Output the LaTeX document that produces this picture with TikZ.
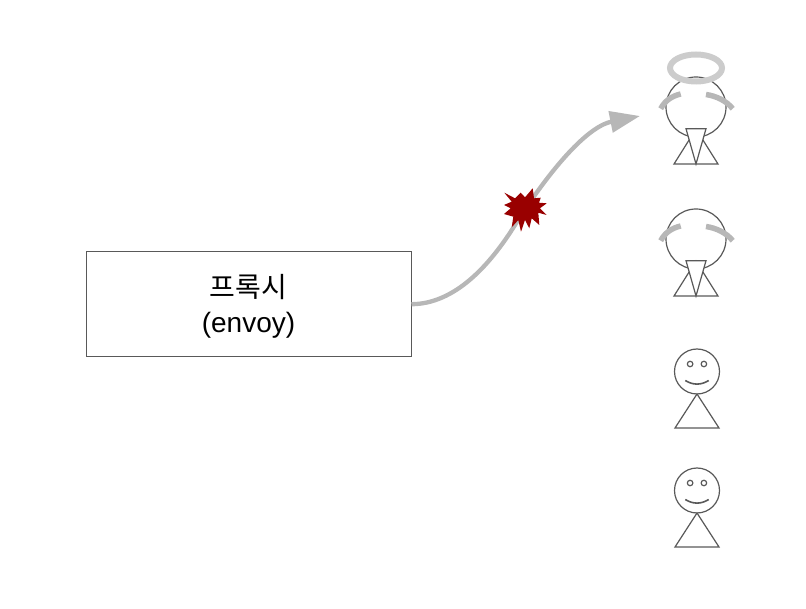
\documentclass[tikz,border=0pt]{standalone}
\usepackage{fontspec}
\setmainfont{Liberation Sans}
\newfontfamily\krfont{Noto Sans CJK KR}
\usetikzlibrary{positioning}
\usetikzlibrary{arrows.meta}
\usetikzlibrary{shapes.geometric}
\definecolor{linegray}{HTML}{595959}
\definecolor{wiregray}{HTML}{B7B7B7}
\definecolor{halogray}{HTML}{CCCCCC}
\definecolor{burstred}{HTML}{990000}
\tikzset{
  proxy box/.style = {draw=linegray,line width=1pt,minimum width=325pt,minimum height=105.5pt,inner sep=0pt},
  proxy text/.style = {inner sep=0pt,align=center,font=\fontsize{28}{35}\selectfont},
  head/.style = {circle,draw=linegray,line width=1.2pt,inner sep=0pt,minimum size=#1},
  eye/.style = {circle,draw=linegray,line width=1.2pt,inner sep=0pt,minimum size=5.5pt},
  limb/.style = {draw=linegray,line width=1.2pt},
  wing/.style = {draw=wiregray,line width=5.5pt},
  halo/.style = {draw=halogray,line width=6pt,ellipse,inner sep=0pt},
  wire/.style = {draw=wiregray,line width=4.3pt,-{Triangle[length=30pt,width=21pt]}},
  smiley/.pic = {
    \node[head=45pt] (face) at (0,0) {};
    \node[eye] (eyeL) at (-6.9,-7.5) {};
    \node[eye] (eyeR) at (6.9,-7.5) {};
    \coordinate (neck) at (0,22.5);
    \coordinate (feetL) at (-22,56.5);
    \coordinate (feetR) at (22,56.5);
    \draw[limb,line width=1.6pt] (-11.7,9) .. controls (-4,13.8) and (4,13.8) .. (11.7,9);
    \draw[limb] (neck) -- (feetL) -- (feetR) -- cycle;
  },
  angel/.pic = {
    \coordinate (apex) at (0,57);
    \coordinate (hipL) at (-22,57);
    \coordinate (hipR) at (22,57);
    \coordinate (top) at (0,22);
    \node[head=60pt] (face) at (0,0) {};
    \draw[limb] (top) -- (hipL) -- (hipR) -- cycle;
    \draw[limb,fill=white] (-10,21.7) -- (10,21.7) -- (apex) -- cycle;
    \draw[wing] (-15.3,-13) .. controls (-24,-11) and (-31,-6.5) .. (-35.3,1.7);
    \draw[wing] (10,-12.5) .. controls (20,-11) and (30,-6.5) .. (36.7,1.7);
  },
}

\begin{document}
\begin{tikzpicture}[x=1pt,y=-1pt]
  \useasboundingbox (0,0) rectangle (806,609);

  \node[proxy box] (proxy) at (248.5,304.2) {};
  \node[proxy text] (proxylabel) at (248.5,306) {{\krfont 프록시}\\(envoy)};
  \coordinate (target) at (640,116);
  \coordinate (hit) at (515,225);

  \draw[wire] (proxy.east) .. controls (455,304) and (490,265) .. (hit) .. controls (545,177) and (585,127) .. (target);

  % burst on the wire
  \fill[burstred] (504.3,192.7) -- (515,198.3) -- (520.7,192.7) -- (525,197.3) -- (532.7,188.3) -- (534,198.3)
    -- (540.7,197.7) -- (539,202.7) -- (546.7,203.3) -- (540,208.3) -- (546.7,215) -- (538.3,212.7)
    -- (539.3,225) -- (531.7,218.3) -- (529.3,228.3) -- (525,220) -- (521,231.7) -- (518.3,220)
    -- (511.7,227.3) -- (513.3,216.7) -- (504,214) -- (510.7,208.3) -- (504,205) -- (511.7,201.7) -- cycle;

  \pic (angelA) at (696,107) {angel};
  \node[halo,minimum width=52pt,minimum height=27pt] (ring) at (696,68) {};
  \pic (angelB) at (696,239) {angel};
  \pic (manA) at (697,371.5) {smiley};
  \pic (manB) at (697,490.5) {smiley};
\end{tikzpicture}
\end{document}
